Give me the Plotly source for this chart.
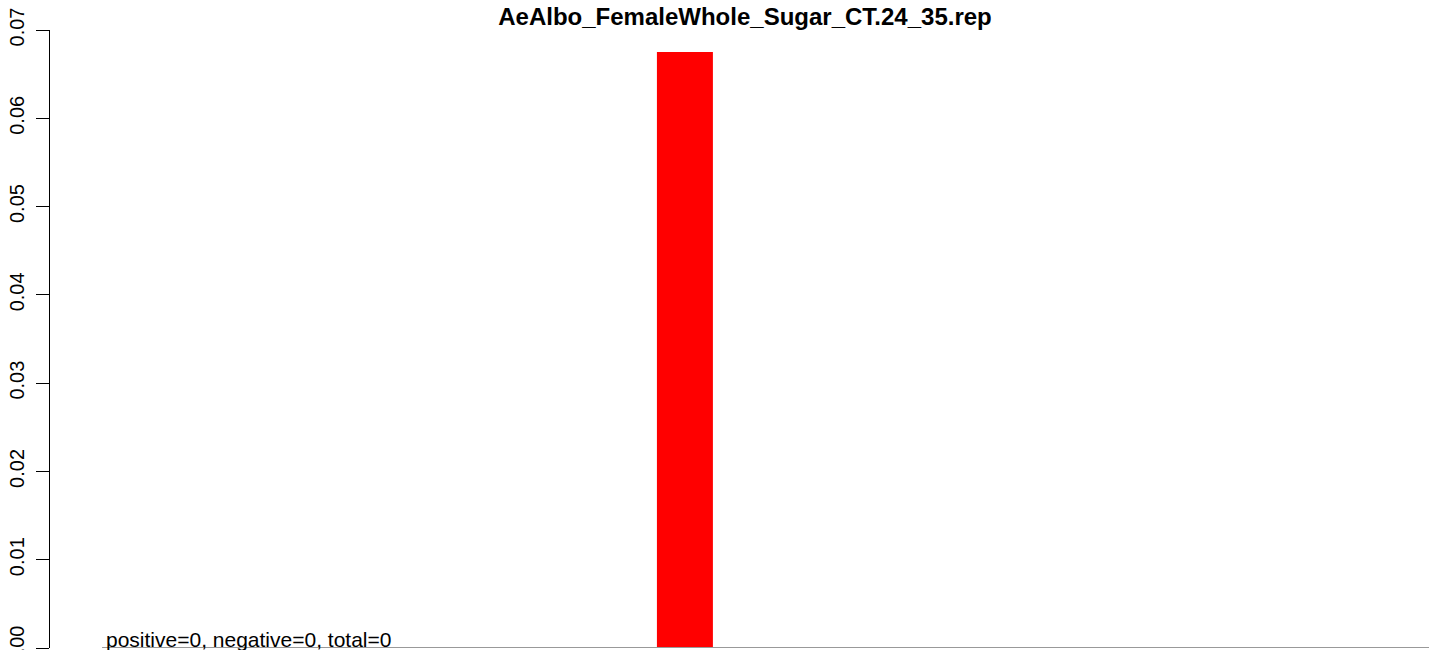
import plotly.graph_objects as go

# Bar chart data
bar_positions = [11.5]
bar_values = [0.0675]
bar_width = 1.0

y_ticks = [0.00, 0.01, 0.02, 0.03, 0.04, 0.05, 0.06, 0.07]
y_tick_labels = ["0.00", "0.01", "0.02", "0.03", "0.04", "0.05", "0.06", "0.07"]

title_text = "AeAlbo_FemaleWhole_Sugar_CT.24_35.rep"
summary_text = "positive=0, negative=0, total=0"

x_range = [0.16, 24.79]
baseline_start = 1.09

W, H = 1429, 650
FONT = "Liberation Sans, Arial, Helvetica, sans-serif"

fig = go.Figure()
fig.add_trace(go.Bar(
    x=bar_positions,
    y=bar_values,
    width=bar_width,
    marker=dict(color="#ff0000", line=dict(width=0)),
    hoverinfo="skip",
))

# gray zero line
fig.add_shape(type="line", xref="x", yref="y",
              x0=baseline_start, x1=x_range[1], y0=0, y1=0,
              line=dict(color="#999999", width=2))

fig.add_annotation(
    text=summary_text, xref="paper", yref="paper",
    x=(104 - 50) / (W - 50), y=(648 - 639) / 618,
    xanchor="left", yanchor="middle", showarrow=False,
    font=dict(family=FONT, size=21, color="black"),
)

fig.update_layout(
    width=W, height=H,
    margin=dict(l=50, r=0, t=30, b=2),
    paper_bgcolor="white", plot_bgcolor="white",
    showlegend=False,
    title=dict(
        text="<b>" + title_text + "</b>",
        xref="container", yref="container",
        x=745 / W, y=1 - 17 / H,
        xanchor="center", yanchor="middle",
        font=dict(family=FONT, size=24, color="black"),
    ),
    xaxis=dict(range=x_range, showgrid=False, zeroline=False,
               showticklabels=False, ticks="", showline=False),
    yaxis=dict(range=[0, 0.07], showgrid=False, zeroline=False,
               tickmode="array", tickvals=y_ticks, ticktext=y_tick_labels,
               ticks="outside", ticklen=13, tickwidth=1.3, tickcolor="black",
               showline=True, linecolor="black", linewidth=1.3,
               tickangle=-90, automargin=False, ticklabeloverflow="allow",
               ticklabelstandoff=4,
               tickfont=dict(family=FONT, size=20, color="black")),
)

fig.write_html("out.html")
